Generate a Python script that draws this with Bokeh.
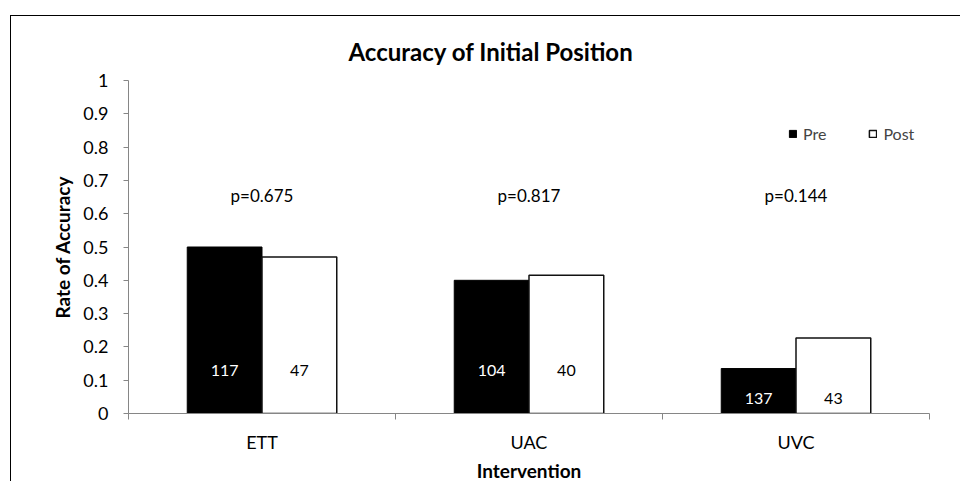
from bokeh.plotting import figure
from bokeh.models import Range1d, FixedTicker, NumeralTickFormatter, Legend, LegendItem
from bokeh.core.properties import value
from bokeh.embed import file_html
from bokeh.resources import INLINE

# ---- data ----
categories = ["ETT", "UAC", "UVC"]
pre_rate = [0.50, 0.40, 0.135]
post_rate = [0.47, 0.415, 0.227]
pre_n = [117, 104, 137]
post_n = [47, 40, 43]
p_values = ["p=0.675", "p=0.817", "p=0.144"]
y_ticks = [0, 0.1, 0.2, 0.3, 0.4, 0.5, 0.6, 0.7, 0.8, 0.9, 1]

FONT = "Lato"
bar_w = 0.28
cat_x = [i + 0.5 for i in range(len(categories))]
pre_x = [c - bar_w / 2 for c in cat_x]
post_x = [c + bar_w / 2 for c in cat_x]
label_y = [min(0.13, min(a, b) / 3) for a, b in zip(pre_rate, post_rate)]

p = figure(
    frame_width=801, frame_height=333,
    min_border_left=117, min_border_right=31, min_border_top=64, min_border_bottom=62,
    x_range=Range1d(0, 3), y_range=Range1d(0, 1),
    output_backend="svg", toolbar_location=None,
    title="Accuracy of Initial Position",
)
p.styles = {"border-left": "1px solid #000", "border-top": "1px solid #000"}
p.margin = (15, 0, 0, 10)
p.outline_line_color = None
p.xgrid.visible = False
p.ygrid.visible = False
p.background_fill_color = "white"
p.border_fill_color = "white"

p.title.align = "left"
p.title.text_color = "black"
p.title.text_font = FONT
p.title.text_font_size = "24px"
p.title.text_font_style = "bold"
p.title.offset = 220
p.title.standoff = 30

axis_col = "#868686"
# y axis
ya = p.yaxis[0]
ya.ticker = FixedTicker(ticks=y_ticks)
ya.formatter = NumeralTickFormatter(format="0.[0]")
ya.axis_line_color = axis_col
ya.major_tick_line_color = axis_col
ya.major_tick_out = 5
ya.major_tick_in = 0
ya.minor_tick_line_color = None
ya.major_label_text_font = FONT
ya.major_label_text_font_size = "18px"
ya.major_label_text_color = "black"
ya.major_label_standoff = 15
ya.axis_label = "Rate of Accuracy"
ya.axis_label_text_font = FONT
ya.axis_label_text_font_size = "19px"
ya.axis_label_text_font_style = "bold"
ya.axis_label_text_color = "black"
ya.axis_label_standoff = 6

# x axis
xa = p.xaxis[0]
xa.ticker = FixedTicker(ticks=cat_x, minor_ticks=[0, 1, 2, 3])
xa.major_label_overrides = {c: name for c, name in zip(cat_x, categories)}
xa.axis_line_color = axis_col
xa.major_tick_line_color = None
xa.major_tick_out = 0
xa.major_tick_in = 0
xa.minor_tick_line_color = axis_col
xa.minor_tick_out = 6
xa.minor_tick_in = 0
xa.major_label_text_font = FONT
xa.major_label_text_font_size = "18px"
xa.major_label_text_color = "black"
xa.major_label_standoff = 11
xa.axis_label = "Intervention"
xa.axis_label_text_font = FONT
xa.axis_label_text_font_size = "19px"
xa.axis_label_text_font_style = "bold"
xa.axis_label_text_color = "black"
xa.axis_label_standoff = 3

r_pre = p.vbar(x=pre_x, top=pre_rate, width=bar_w, fill_color="black", line_color="black", line_width=1)
r_post = p.vbar(x=post_x, top=post_rate, width=bar_w, fill_color="white", line_color="#111111", line_width=1.5)

p.text(x=pre_x, y=label_y, text=[str(n) for n in pre_n], text_align="center", text_baseline="middle",
       text_color="white", text_font=value(FONT), text_font_size="16px")
p.text(x=post_x, y=label_y, text=[str(n) for n in post_n], text_align="center", text_baseline="middle",
       text_color="black", text_font=value(FONT), text_font_size="16px")
p.text(x=cat_x, y=[0.655] * len(cat_x), text=p_values, text_align="center", text_baseline="middle",
       text_color="black", text_font=value(FONT), text_font_size="17px")

legend = Legend(
    items=[LegendItem(label="Pre", renderers=[r_pre]), LegendItem(label="Post", renderers=[r_post])],
    orientation="horizontal", location=(660, 270),
    border_line_alpha=0, background_fill_alpha=0, padding=0, margin=0, spacing=42,
    glyph_width=9, glyph_height=9, label_standoff=6,
    label_text_font=FONT, label_text_font_size="16px", label_height=9,
)
p.add_layout(legend)

open("out.html", "w").write(file_html(p, INLINE))
